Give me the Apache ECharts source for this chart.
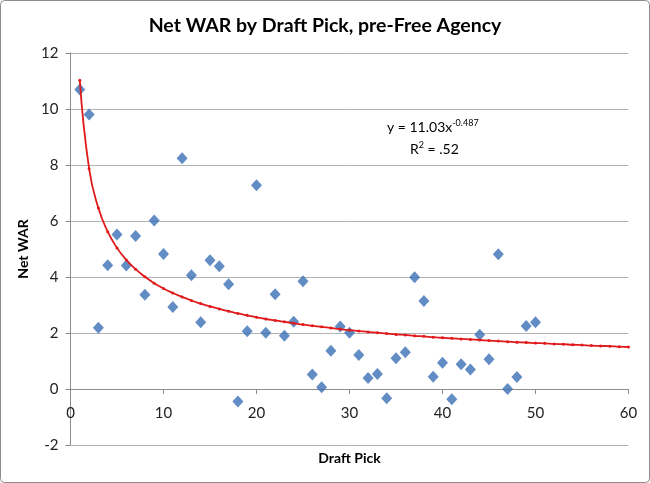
<!DOCTYPE html>
<html>
<head>
<meta charset="utf-8">
<script src="https://cdn.jsdelivr.net/npm/echarts@6/dist/echarts.min.js"></script>
<style>
html,body{margin:0;padding:0;background:#fff;}
#chart{width:650px;height:483px;}
</style>
</head>
<body>
<div id="chart"></div>
<script>
// Draft pick numbers and net WAR values
var picks = [1,2,3,4,5,6,7,8,9,10,11,12,13,14,15,16,17,18,19,20,21,22,23,24,25,26,27,28,29,30,31,32,33,34,35,36,37,38,39,40,41,42,43,44,45,46,47,48,49,50];
var netWar = [10.7,9.8,2.19,4.42,5.52,4.41,5.46,3.37,6.02,4.82,2.93,8.24,4.06,2.38,4.6,4.38,3.74,-0.45,2.06,7.28,2.01,3.38,1.9,2.4,3.85,0.52,0.06,1.37,2.23,2.01,1.21,0.39,0.54,-0.33,1.1,1.31,3.99,3.14,0.44,0.94,-0.37,0.88,0.7,1.94,1.06,4.81,0.0,0.43,2.25,2.38];
// Trend line (x = 1..60)
var trendX = [1,2,3,4,5,6,7,8,9,10,11,12,13,14,15,16,17,18,19,20,21,22,23,24,25,26,27,28,29,30,31,32,33,34,35,36,37,38,39,40,41,42,43,44,45,46,47,48,49,50,51,52,53,54,55,56,57,58,59,60];
var trendY = [11.03,7.87,6.46,5.62,5.04,4.61,4.28,4.01,3.78,3.59,3.43,3.29,3.16,3.05,2.95,2.86,2.78,2.70,2.63,2.56,2.50,2.45,2.40,2.35,2.30,2.26,2.22,2.18,2.14,2.10,2.07,2.04,2.01,1.98,1.95,1.93,1.90,1.88,1.85,1.83,1.81,1.79,1.77,1.75,1.73,1.71,1.69,1.67,1.66,1.64,1.63,1.61,1.60,1.58,1.57,1.55,1.54,1.53,1.51,1.50];
var xTicks = [0,10,20,30,40,50,60];
var yTicks = [-2,0,2,4,6,8,10,12];
var xCross = 0; // value of y where the x axis crosses
var titleText = 'Net WAR by Draft Pick, pre-Free Agency';
var xName = 'Draft Pick';
var yName = 'Net WAR';
var eqMain = 'y = 11.03x';
var eqExp = '-0.487';
var r2Label = 'R';
var r2Value = ' = .52';

var FONT = 'Lato, "Open Sans", sans-serif';
var chart = echarts.init(document.getElementById('chart'), null, {renderer: 'canvas'});
var scatterData = picks.map(function (p, i) { return [p, netWar[i]]; });
var trendData = trendX.map(function (p, i) { return [p, trendY[i]]; });

chart.setOption({
  animation: false,
  backgroundColor: '#fff',
  title: {
    text: titleText,
    left: 'center',
    top: 11,
    textStyle: {fontFamily: FONT, fontSize: 19.5, fontWeight: 'bold', color: '#000'}
  },
  grid: {left: 70.5, right: 21.5, top: 53, bottom: 38, containLabel: false, outerBoundsMode: 'none'},
  xAxis: {
    type: 'value',
    min: xTicks[0], max: xTicks[xTicks.length - 1], interval: 10,
    name: xName,
    nameLocation: 'middle',
    nameGap: 62,
    offset: 0,
    nameTextStyle: {fontFamily: FONT, fontSize: 14, fontWeight: 'bold', color: '#000'},
    axisLine: {show: true, onZero: false, lineStyle: {color: '#8c8c8c', width: 1}},
    axisTick: {show: true, length: 5, inside: false, lineStyle: {color: '#8c8c8c'}},
    axisLabel: {fontFamily: FONT, fontSize: 15, color: '#222', margin: 17},
    splitLine: {show: false}
  },
  yAxis: {
    type: 'value',
    min: yTicks[0], max: yTicks[yTicks.length - 1], interval: 2,
    name: yName,
    nameLocation: 'middle',
    nameRotate: 90,
    nameGap: 39,
    nameTextStyle: {fontFamily: FONT, fontSize: 14, fontWeight: 'bold', color: '#000'},
    axisLine: {show: true, lineStyle: {color: '#8c8c8c', width: 1}},
    axisTick: {show: true, length: 5, lineStyle: {color: '#8c8c8c'}},
    axisLabel: {fontFamily: FONT, fontSize: 15, color: '#222', margin: 12},
    splitLine: {show: true, lineStyle: {color: '#b3b3b3', width: 1}}
  },
  series: [
    {
      type: 'scatter',
      data: scatterData,
      symbol: 'diamond',
      symbolSize: [11, 12],
      itemStyle: {color: '#3a6fb5'},
      z: 3
    },
    {
      type: 'line',
      data: trendData,
      smooth: true,
      symbol: 'circle',
      symbolSize: 3,
      showSymbol: true,
      lineStyle: {color: '#e0191b', width: 1.8},
      itemStyle: {color: '#e0191b'},
      z: 4
    }
  ],
  graphic: [
    {
      type: 'rect',
      shape: {x: 0.5, y: 0.5, width: 649, height: 482, r: 4},
      style: {fill: 'none', stroke: '#8c8c8c', lineWidth: 1},
      silent: true
    },
    {
      type: 'text',
      left: 387, top: 119,
      style: {
        text: '{m|' + eqMain + '}{s|' + eqExp + '}',
        rich: {
          m: {fontFamily: FONT, fontSize: 14, fill: '#000', color: '#000'},
          s: {fontFamily: FONT, fontSize: 9, fill: '#000', color: '#000', verticalAlign: 'top', padding: [0, 0, 8, 0]}
        }
      }
    },
    {
      type: 'text',
      left: 410, top: 141,
      style: {
        text: '{m|' + r2Label + '}{s|2}{m|' + r2Value + '}',
        rich: {
          m: {fontFamily: FONT, fontSize: 14, fill: '#000', color: '#000'},
          s: {fontFamily: FONT, fontSize: 9, fill: '#000', color: '#000', verticalAlign: 'top', padding: [0, 0, 8, 0]}
        }
      }
    }
  ]
});

// Move the x axis up so it crosses the y axis at y = 0 (position taken from the library's scale)
var pBottom = chart.convertToPixel({yAxisIndex: 0}, yTicks[0]);
var pZero = chart.convertToPixel({yAxisIndex: 0}, xCross);
chart.setOption({xAxis: {offset: -(pBottom - pZero)}});
</script>
</body>
</html>
